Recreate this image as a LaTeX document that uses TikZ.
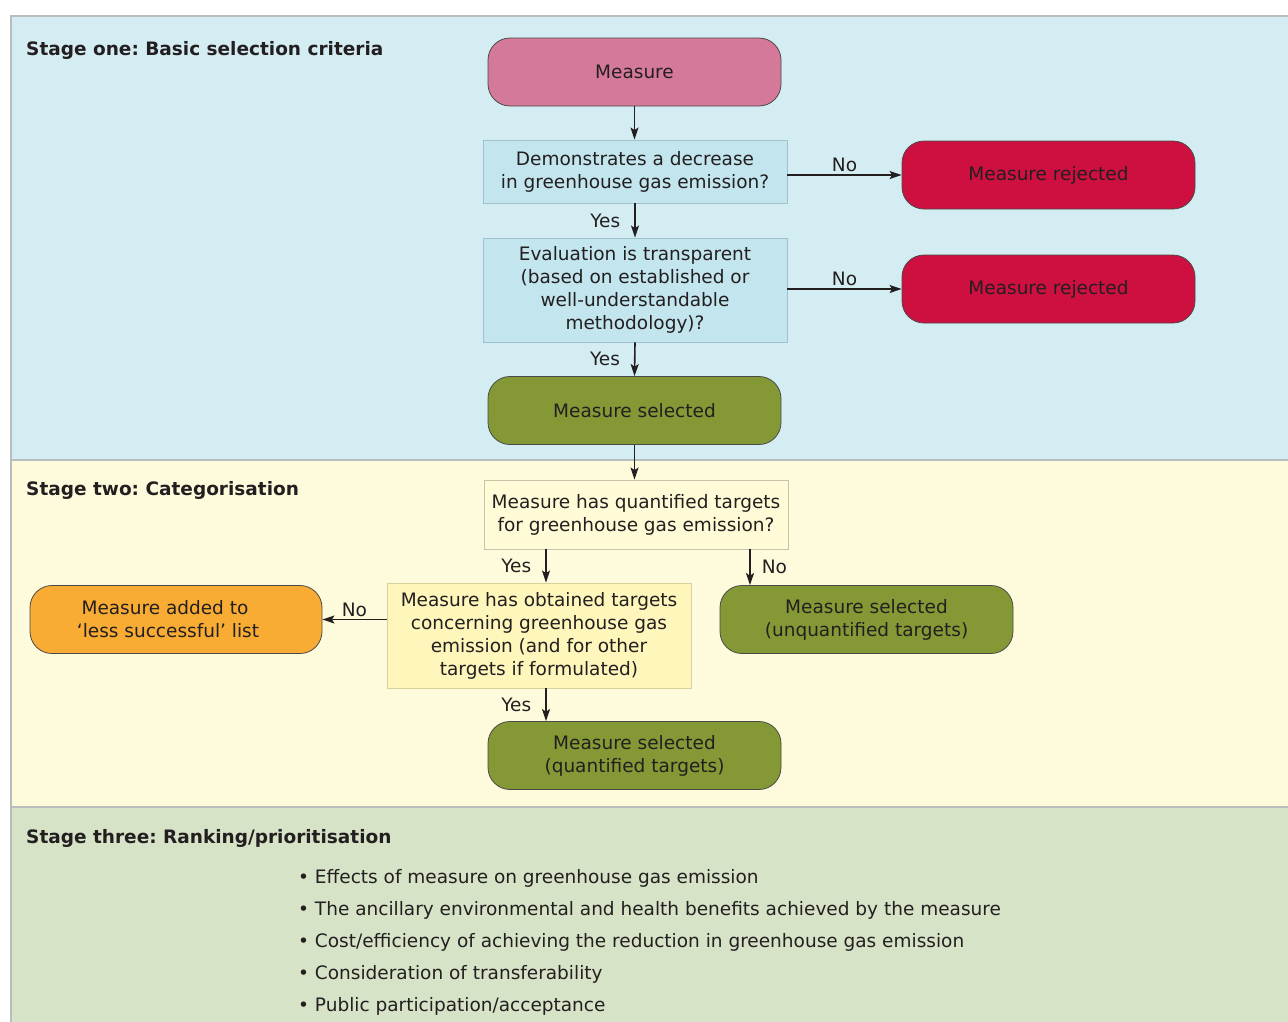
\documentclass[tikz,border=0pt]{standalone}
\usepackage{fontspec}
\setmainfont{DejaVu Sans}
\frenchspacing
\usetikzlibrary{arrows.meta}
\definecolor{txt}{HTML}{231F20}
\definecolor{sonebg}{HTML}{D4EDF3}
\definecolor{stwobg}{HTML}{FEFBDC}
\definecolor{sthreebg}{HTML}{D6E3C7}
\definecolor{bandedge}{HTML}{B9BDBE}
\definecolor{pinkfill}{HTML}{D5799A}
\definecolor{redfill}{HTML}{CE1041}
\definecolor{olivefill}{HTML}{849835}
\definecolor{orangefill}{HTML}{F9AC34}
\definecolor{qonefill}{HTML}{C2E5EE}
\definecolor{qoneedge}{HTML}{9EC3CF}
\definecolor{qthreefill}{HTML}{FFFBD6}
\definecolor{qthreeedge}{HTML}{C6C3A8}
\definecolor{qfourfill}{HTML}{FEF6BA}
\definecolor{qfouredge}{HTML}{D8D29A}
\definecolor{roundedge}{HTML}{4A4A48}
\tikzset{
  rbox/.style={draw=roundedge, line width=0.8pt, rounded corners=22pt,
    minimum width=293pt, minimum height=68pt, align=center, text=txt, inner sep=0pt},
  qbox/.style={line width=0.9pt, minimum width=304pt, align=center, text=txt, inner sep=0pt},
  arr/.style={draw=txt, line width=1.6pt, -{Stealth[length=12pt,width=8pt,inset=2.5pt]}},
  lbl/.style={text=txt, inner sep=1pt},
  stagetitle/.style={anchor=west, inner sep=0pt, text=txt, font=\fontsize{18.5}{23}\selectfont\bfseries},
  bullet/.style={anchor=west, inner sep=0pt, text=txt}
}
\begin{document}
\begin{tikzpicture}[x=1pt,y=-1pt,font=\fontsize{18.5}{23}\selectfont]
\useasboundingbox (0,0) rectangle (1288,1021);
\fill[white] (0,0) rectangle (1288,1021);
% bands
\filldraw[fill=sonebg, draw=bandedge, line width=1.2pt] (11,16) rectangle (1295,460);
\filldraw[fill=stwobg, draw=bandedge, line width=1.2pt] (11,460) rectangle (1295,807);
\filldraw[fill=sthreebg, draw=bandedge, line width=1.2pt] (11,807) rectangle (1295,1030);
% stage titles
\node[stagetitle] (t1) at (26,50) {Stage one: Basic selection criteria};
\node[stagetitle] (t2) at (26,490) {Stage two: Categorisation};
\node[stagetitle] (t3) at (26,838) {Stage three: Ranking/prioritisation};
% nodes
\node[rbox, fill=pinkfill] (measure) at (634.5,72) {Measure};
\node[qbox, fill=qonefill, draw=qoneedge, minimum height=63pt] (q1) at (635,171.5)
  {Demonstrates a decrease\\in greenhouse gas emission?};
\node[rbox, fill=redfill] (rej1) at (1048.5,175) {Measure rejected};
\node[qbox, fill=qonefill, draw=qoneedge, minimum height=104pt] (q2) at (635,290)
  {Evaluation is transparent\\(based on established or\\well-understandable\\methodology)?};
\node[rbox, fill=redfill] (rej2) at (1048.5,289) {Measure rejected};
\node[rbox, fill=olivefill] (sel1) at (634.5,410.5) {Measure selected};
\node[qbox, fill=qthreefill, draw=qthreeedge, minimum height=69pt] (q3) at (636,514.5)
  {Measure has quantified targets\\for greenhouse gas emission?};
\node[qbox, fill=qfourfill, draw=qfouredge, minimum height=105pt] (q4) at (539,635.5)
  {Measure has obtained targets\\concerning greenhouse gas\\emission (and for other\\targets if formulated)};
\node[rbox, fill=orangefill, minimum width=292pt] (less) at (176,619.5)
  {Measure added to\hspace*{22pt}\\‘less successful’ list\hspace*{16pt}};
\node[rbox, fill=olivefill] (unq) at (866.5,619.5) {Measure selected\\(unquantified targets)};
\node[rbox, fill=olivefill] (quant) at (634.5,755.5) {Measure selected\\(quantified targets)};
% connectors
\draw[arr] (measure.south) -- (measure.south |- q1.north);
\draw[arr] (q1.south) -- node[lbl, left=13pt] {Yes} (q2.north);
\draw[arr] (q1.east |- rej1.west) -- node[lbl, above=1pt] {No} (rej1.west);
\draw[arr] (q2.east |- rej2.west) -- node[lbl, above=1pt] {No} (rej2.west);
\draw[arr] (q2.south) -- node[lbl, left=13pt] {Yes} (sel1.north);
\draw[arr] (sel1.south) -- (sel1.south |- q3.north);
\draw[arr] ([xshift=7pt]q4.north |- q3.south) -- node[lbl, left=13pt] {Yes} ([xshift=7pt]q4.north);
\draw[arr] ([xshift=-116.5pt]unq.north |- q3.south) -- node[lbl, right=10pt] {No} ([xshift=-116.5pt]unq.north);
\draw[arr] (q4.west |- less.east) -- node[lbl, above=1pt] {No} (less.east);
\draw[arr] ([xshift=7pt]q4.south) -- node[lbl, left=13pt] {Yes} ([xshift=7pt]q4.south |- quant.north);
% stage three list
\node[bullet] (b1) at (298,878) {• Effects of measure on greenhouse gas emission};
\node[bullet] (b2) at (298,910) {• The ancillary environmental and health benefits achieved by the measure};
\node[bullet] (b3) at (298,942) {• Cost/efficiency of achieving the reduction in greenhouse gas emission};
\node[bullet] (b4) at (298,974) {• Consideration of transferability};
\node[bullet] (b5) at (298,1006) {• Public participation/acceptance};
\end{tikzpicture}
\end{document}
